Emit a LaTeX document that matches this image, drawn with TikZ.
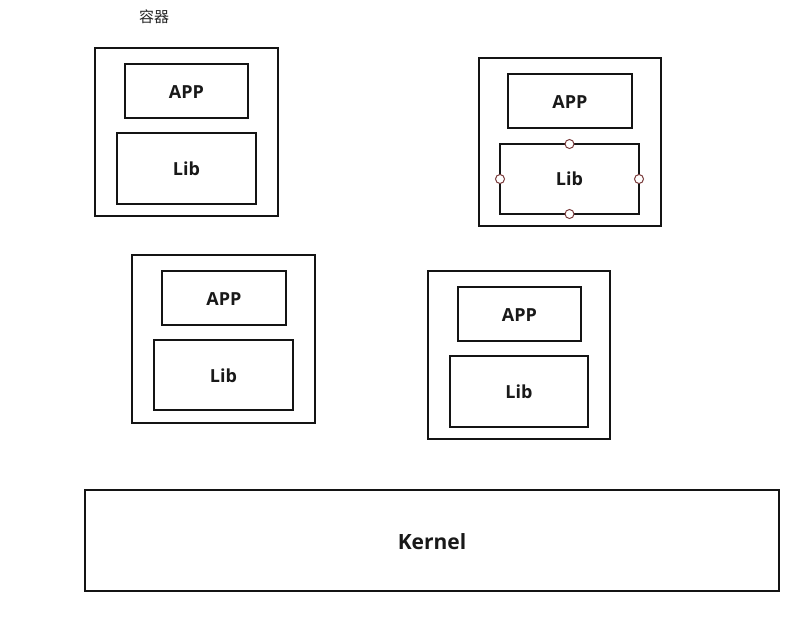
\documentclass[tikz,border=0pt]{standalone}
\usepackage{fontspec}
\setmainfont{Open Sans}
\newfontfamily\cjk{Noto Sans CJK SC}
\definecolor{handle}{HTML}{7A3B3B}
\begin{document}
\begin{tikzpicture}[x=1pt,y=-1pt,
  box/.style={draw=black!92,line width=2.3pt,fill=white},
  lbl/.style={font=\fontsize{18}{21}\selectfont\bfseries,text=black!90},
  hnd/.style={circle,draw=handle,fill=white,line width=1pt,inner sep=0pt,minimum size=9pt}]
\useasboundingbox[fill=white] (0,0) rectangle (810,616);
\node[font=\cjk\fontsize{15}{17}\selectfont,text=black!85] (title) at (154,17) {容器};
% container 1
\draw[box] (95,48) rectangle (278,216);
\draw[box] (125,64) rectangle (248,118);
\draw[box] (117,133) rectangle (256,204);
\node[lbl] (a1) at (186.5,92) {APP};
\node[lbl] (l1) at (186.5,169) {Lib};
% container 2
\draw[box] (479,58) rectangle (661,226);
\draw[box] (508,74) rectangle (632,128);
\draw[box] (500,144) rectangle (639,214);
\node[lbl] (a2) at (570,102) {APP};
\node[lbl] (l2) at (569.5,179) {Lib};
\node[hnd] (h1) at (569.5,144) {};
\node[hnd] (h2) at (569.5,214) {};
\node[hnd] (h3) at (500,179) {};
\node[hnd] (h4) at (639,179) {};
% container 3
\draw[box] (132,255) rectangle (315,423);
\draw[box] (162,271) rectangle (286,325);
\draw[box] (154,340) rectangle (293,410);
\node[lbl] (a3) at (224,299) {APP};
\node[lbl] (l3) at (223.5,376) {Lib};
% container 4
\draw[box] (428,271) rectangle (610,439);
\draw[box] (458,287) rectangle (581,341);
\draw[box] (450,356) rectangle (588,427);
\node[lbl] (a4) at (519.5,315) {APP};
\node[lbl] (l4) at (519,392) {Lib};
% kernel
\draw[box] (85,490) rectangle (779,591);
\node[font=\fontsize{21}{25}\selectfont\bfseries,text=black!90] (k) at (432,542) {Kernel};
\end{tikzpicture}
\end{document}
